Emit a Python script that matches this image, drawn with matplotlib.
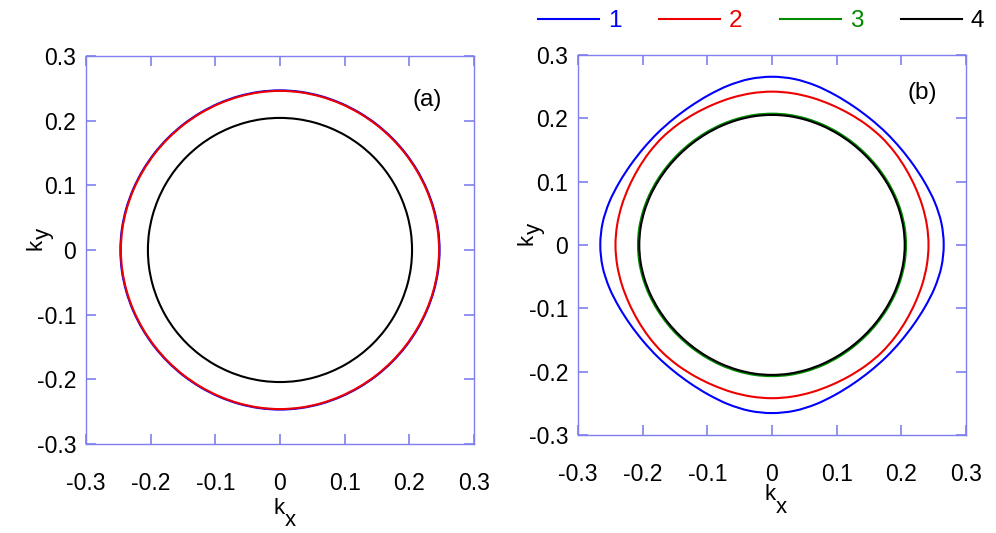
import numpy as np
import matplotlib
matplotlib.use("Agg")
import matplotlib.pyplot as plt
from matplotlib.lines import Line2D
from matplotlib.path import Path
from matplotlib.patches import PathPatch

plt.rcParams['font.family'] = ['Liberation Sans', 'DejaVu Sans']
plt.rcParams['axes.unicode_minus'] = False

# polar angle (deg) in one octant; curves are mirrored by the 4-fold symmetry
theta_deg = [0, 7.5, 15, 22.5, 30, 37.5, 45]

# panel (a) radii
a_r1 = [0.2468, 0.2466, 0.2462, 0.2457, 0.2453, 0.2451, 0.2450]
a_r2 = [0.2460, 0.2458, 0.2454, 0.2449, 0.2445, 0.2443, 0.2442]
a_r4 = [0.2042, 0.2042, 0.2041, 0.2040, 0.2040, 0.2040, 0.2040]

# panel (b) radii
b_r1 = [0.2655, 0.2642, 0.2605, 0.2560, 0.2525, 0.2505, 0.2500]
b_r2 = [0.2420, 0.2415, 0.2405, 0.2395, 0.2392, 0.2395, 0.2398]
b_r3 = [0.2072, 0.2070, 0.2063, 0.2055, 0.2047, 0.2042, 0.2040]
b_r4 = [0.2052, 0.2050, 0.2043, 0.2035, 0.2027, 0.2022, 0.2020]

labels = ['1', '2', '3', '4']
colors = ['#0000ff', '#ee0000', '#008a00', '#000000']
ticks = [-0.3, -0.2, -0.1, 0, 0.1, 0.2, 0.3]
tick_labels = ['-0.3', '-0.2', '-0.1', '0', '0.1', '0.2', '0.3']
frame_col = '#7f7fef'


def closed_points(r_oct):
    th = np.array(theta_deg)
    r = np.array(r_oct)
    th_q = np.concatenate([th, 90 - th[-2::-1]])
    r_q = np.concatenate([r, r[-2::-1]])
    th_h = np.concatenate([th_q, 180 - th_q[-2::-1]])
    r_h = np.concatenate([r_q, r_q[-2::-1]])
    th_all = np.concatenate([th_h, 360 - th_h[-2::-1]])[:-1]
    r_all = np.concatenate([r_h, r_h[-2::-1]])[:-1]
    t = np.radians(th_all)
    return np.column_stack([r_all * np.cos(t), r_all * np.sin(t)])


def smooth_contour(ax, r_oct, color):
    # closed Catmull-Rom through the read points, drawn as cubic Bezier path
    p = closed_points(r_oct)
    n = len(p)
    verts = [p[0]]
    codes = [Path.MOVETO]
    for i in range(n):
        p0, p1, p2, p3 = p[i - 1], p[i], p[(i + 1) % n], p[(i + 2) % n]
        verts += [p1 + (p2 - p0) / 6, p2 - (p3 - p1) / 6, p2]
        codes += [Path.CURVE4] * 3
    ax.add_patch(PathPatch(Path(verts, codes), fill=False, edgecolor=color, lw=1.5))


def sub_label(ax, main, sub, main_off, sub_off, rot):
    kw = dict(xycoords='axes fraction', textcoords='offset pixels', fontsize=16,
              va='baseline', ha='center', rotation=rot, rotation_mode='anchor',
              annotation_clip=False)
    xy = (0.5, 0.0) if rot == 0 else (0.0, 0.5)
    ax.annotate(main, xy=xy, xytext=main_off, **kw)
    ax.annotate(sub, xy=xy, xytext=sub_off, **kw)


def style_axes(ax, tag, tx, ty):
    ax.set_xlim(-0.3, 0.3)
    ax.set_ylim(-0.3, 0.3)
    for s in ax.spines.values():
        s.set_color(frame_col)
        s.set_linewidth(1.0)
    ax.set_xticks(ticks)
    ax.set_yticks(ticks)
    ax.set_xticklabels(tick_labels)
    ax.set_yticklabels(tick_labels)
    ax.tick_params(direction='in', length=7.5, width=1.2, color=frame_col,
                   top=True, right=True, labelsize=16.5)
    ax.tick_params(axis='x', pad=20)
    ax.tick_params(axis='y', pad=7)
    ax.text(tx, ty, tag, ha='center', va='center', fontsize=17.5)


fig = plt.figure(figsize=(9.96, 5.33), dpi=100)
ax1 = fig.add_axes([0.0863, 0.167, 0.3896, 0.728])
ax2 = fig.add_axes([0.5803, 0.184, 0.3896, 0.713])

for r_oct, c in zip([a_r1, a_r2, a_r4], [colors[0], colors[1], colors[3]]):
    smooth_contour(ax1, r_oct, c)

for r_oct, c in zip([b_r1, b_r2, b_r3, b_r4], colors):
    smooth_contour(ax2, r_oct, c)

style_axes(ax1, '(a)', 0.227, 0.232)
style_axes(ax2, '(b)', 0.233, 0.24)

sub_label(ax1, 'k', 'x', (-1, -70), (10, -82), 0)
sub_label(ax1, 'k', 'y', (-44, 6), (-37, 17), 90)
sub_label(ax2, 'k', 'x', (-2, -65), (9, -78), 0)
sub_label(ax2, 'k', 'y', (-45, 5), (-38, 16), 90)

handles = [Line2D([], [], color=c, lw=1.5) for c in colors]
leg = fig.legend(handles, labels, loc='center left', bbox_to_anchor=(538 / 996, 1 - 21 / 533),
                 ncol=4, frameon=False, fontsize=17.5, handlelength=2.5, handletextpad=0.37,
                 columnspacing=1.55, borderpad=0, borderaxespad=0)
for txt, c in zip(leg.get_texts(), colors):
    txt.set_color(c)

fig.savefig('out.png', dpi=100)
